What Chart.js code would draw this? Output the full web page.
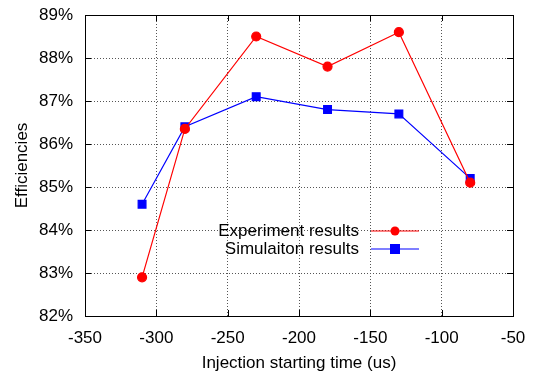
<!DOCTYPE html>
<html>
<head>
<meta charset="utf-8">
<script src="https://cdn.jsdelivr.net/npm/chart.js@4/dist/chart.umd.min.js"></script>
<style>
  html, body { margin: 0; padding: 0; background: #fff; }
  #wrap { width: 533px; height: 376px; }
</style>
</head>
<body>
<div id="wrap"><canvas id="chart" width="533" height="376"></canvas></div>
<script>
// valeurs
const injectionTimes = [-310, -280, -230, -180, -130, -80];
const experimentValues = [82.9, 86.35, 88.5, 87.8, 88.6, 85.1];
const simulationValues = [84.6, 86.4, 87.1, 86.8, 86.7, 85.2];
const xTicks = [-350, -300, -250, -200, -150, -100, -50];
const yTicks = [82, 83, 84, 85, 86, 87, 88, 89];
const seriesNames = ['Experiment results', 'Simulaiton results'];

const FONT = 'Liberation Sans, Arial, sans-serif';
const FS = 17;

// petits traits vers l'intérieur, façon gnuplot
const innerTicks = {
    id: 'innerTicks',
    afterDraw(chart) {
        const { ctx, chartArea: a, scales } = chart;
        ctx.save();
        ctx.strokeStyle = '#000';
        ctx.lineWidth = 1;
        ctx.beginPath();
        xTicks.forEach(v => {
            const x = Math.round(scales.x.getPixelForValue(v)) + 0.5;
            ctx.moveTo(x, a.bottom); ctx.lineTo(x, a.bottom - 6);
            ctx.moveTo(x, a.top); ctx.lineTo(x, a.top + 6);
        });
        yTicks.forEach(v => {
            const y = Math.round(scales.y.getPixelForValue(v)) + 0.5;
            ctx.moveTo(a.left, y); ctx.lineTo(a.left + 6, y);
            ctx.moveTo(a.right, y); ctx.lineTo(a.right - 6, y);
        });
        ctx.stroke();
        ctx.strokeRect(a.left + 0.5, a.top + 0.5, a.right - a.left, a.bottom - a.top);
        ctx.restore();
    }
};

// légende dessinée dans le graphe
const insideLegend = {
    id: 'insideLegend',
    afterDatasetsDraw(chart) {
        const { ctx } = chart;
        const rows = [
            { label: seriesNames[0], color: '#ff0000', y: 231, shape: 'circle' },
            { label: seriesNames[1], color: '#0000ff', y: 249, shape: 'rect' }
        ];
        ctx.save();
        ctx.font = FS + 'px ' + FONT;
        ctx.textAlign = 'right';
        ctx.textBaseline = 'middle';
        rows.forEach(r => {
            ctx.fillStyle = '#000';
            ctx.fillText(r.label, 359, r.y);
            ctx.strokeStyle = r.color;
            ctx.lineWidth = 1.2;
            ctx.beginPath();
            ctx.moveTo(371, r.y); ctx.lineTo(419, r.y);
            ctx.stroke();
            ctx.fillStyle = r.color;
            if (r.shape === 'circle') {
                ctx.beginPath();
                ctx.arc(395, r.y, 4.5, 0, Math.PI * 2);
                ctx.fill();
            } else {
                ctx.fillRect(390, r.y - 5, 10, 10);
            }
        });
        ctx.restore();
    }
};

new Chart(document.getElementById('chart'), {
    type: 'line',
    data: {
        datasets: [
            {
                label: seriesNames[0],
                data: injectionTimes.map((x, i) => ({ x, y: experimentValues[i] })),
                borderColor: '#ff0000',
                backgroundColor: '#ff0000',
                borderWidth: 1.2,
                pointStyle: 'circle',
                pointRadius: 4.5,
                tension: 0
            },
            {
                label: seriesNames[1],
                data: injectionTimes.map((x, i) => ({ x, y: simulationValues[i] })),
                borderColor: '#0000ff',
                backgroundColor: '#0000ff',
                borderWidth: 1.2,
                pointStyle: 'rect',
                pointRadius: 5.5,
                tension: 0
            }
        ]
    },
    options: {
        responsive: false,
        animation: false,
        layout: { padding: { left: 0, right: 20, top: 15, bottom: 0 } },
        plugins: {
            legend: { display: false },
            tooltip: { enabled: false }
        },
        scales: {
            x: {
                type: 'linear',
                min: -350,
                max: -50,
                afterBuildTicks: s => { s.ticks = xTicks.map(v => ({ value: v })); },
                afterFit: s => {
                    s.height = 60;
                    s.paddingLeft = 0;
                    s.paddingRight = 0;
                },
                ticks: {
                    color: '#000',
                    font: { family: FONT, size: FS },
                    padding: 12,
                    maxRotation: 0
                },
                grid: {
                    color: '#555',
                    lineWidth: 1,
                    drawTicks: false,
                    tickLength: 0
                },
                border: { display: false, dash: [1, 2] },
                title: {
                    display: true,
                    text: 'Injection starting time (us)',
                    color: '#000',
                    font: { family: FONT, size: FS },
                    padding: { top: 0, bottom: 2 }
                }
            },
            y: {
                type: 'linear',
                min: 82,
                max: 89,
                afterBuildTicks: s => { s.ticks = yTicks.map(v => ({ value: v })); },
                afterFit: s => {
                    s.width = 85;
                    s.paddingTop = 0;
                    s.paddingBottom = 0;
                },
                ticks: {
                    color: '#000',
                    font: { family: FONT, size: FS },
                    padding: 12,
                    callback: v => v + '%'
                },
                grid: {
                    color: '#555',
                    lineWidth: 1,
                    drawTicks: false,
                    tickLength: 0
                },
                border: { display: false, dash: [1, 2] },
                title: {
                    display: true,
                    text: 'Efficiencies',
                    color: '#000',
                    font: { family: FONT, size: FS },
                    padding: { top: 12, bottom: 0 }
                }
            }
        }
    },
    plugins: [innerTicks, insideLegend]
});
</script>
</body>
</html>
